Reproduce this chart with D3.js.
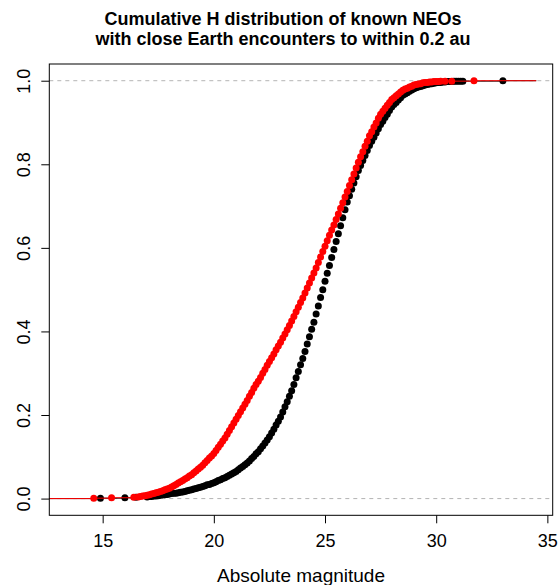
<!DOCTYPE html>
<html>
<head>
<meta charset="utf-8">
<script src="https://cdn.jsdelivr.net/npm/d3@7"></script>
<style>
  body { margin: 0; background: #fff; }
  text { font-family: "Liberation Sans", Arial, Helvetica, sans-serif; }
</style>
</head>
<body>
<script>
// knots (absolute magnitude H) and cumulative fraction
const blackH = [14.9, 16.0, 16.5,
  17.0,17.1,17.2,17.3,17.4,17.5,17.6,17.7,17.8,17.9,
  18.0,18.1,18.2,18.3,18.4,18.5,18.6,18.7,18.8,18.9,
  19.0,19.1,19.2,19.3,19.4,19.5,19.6,19.7,19.8,19.9,
  20.0,20.1,20.2,20.3,20.4,20.5,20.6,20.7,20.8,20.9,
  21.0,21.1,21.2,21.3,21.4,21.5,21.6,21.7,21.8,21.9,
  22.0,22.1,22.2,22.3,22.4,22.5,22.6,22.7,22.8,22.9,
  23.0,23.1,23.2,23.3,23.4,23.5,23.6,23.7,23.8,23.9,
  24.0,24.1,24.2,24.3,24.4,24.5,24.6,24.7,24.8,24.9,
  25.0,25.1,25.2,25.3,25.4,25.5,25.6,25.7,25.8,25.9,
  26.0,26.1,26.2,26.3,26.4,26.5,26.6,26.7,26.8,26.9,
  27.0,27.1,27.2,27.3,27.4,27.5,27.6,27.7,27.8,27.9,
  28.0,28.1,28.2,28.3,28.4,28.5,28.6,28.7,28.8,28.9,
  29.0,29.1,29.2,29.3,29.4,29.5,29.6,29.7,29.8,29.9,
  30.0,30.1,30.2,30.3,30.4,30.5,30.6,30.7,30.8,30.9,
  31.0,31.1,31.2, 33.0];
const blackF = [.001, .002, .003,
  .004,.005,.005,.006,.006,.007,.008,.009,.009,.010,
  .011,.012,.013,.013,.014,.015,.016,.017,.019,.020,
  .021,.023,.024,.026,.027,.029,.031,.033,.034,.036,
  .038,.040,.043,.045,.048,.050,.053,.056,.059,.062,
  .065,.069,.073,.077,.081,.085,.090,.096,.101,.107,
  .112,.119,.126,.133,.140,.148,.157,.166,.176,.185,
  .195,.207,.220,.232,.245,.258,.273,.289,.304,.320,
  .335,.352,.370,.387,.405,.422,.442,.461,.481,.500,
  .520,.539,.558,.577,.596,.615,.634,.653,.672,.691,
  .710,.725,.740,.755,.770,.785,.797,.809,.821,.833,
  .845,.855,.865,.875,.885,.895,.903,.912,.920,.929,
  .937,.943,.948,.954,.959,.965,.968,.971,.975,.978,
  .981,.983,.985,.986,.988,.990,.991,.992,.993,.994,
  .995,.996,.996,.997,.997,.998,.998,.998,.999,.999,
  .999,.999,.999, 1.0];

const redH = [14.6, 15.4, 16.4,
  16.6,16.7,16.8,16.9,
  17.0,17.1,17.2,17.3,17.4,17.5,17.6,17.7,17.8,17.9,
  18.0,18.1,18.2,18.3,18.4,18.5,18.6,18.7,18.8,18.9,
  19.0,19.1,19.2,19.3,19.4,19.5,19.6,19.7,19.8,19.9,
  20.0,20.1,20.2,20.3,20.4,20.5,20.6,20.7,20.8,20.9,
  21.0,21.1,21.2,21.3,21.4,21.5,21.6,21.7,21.8,21.9,
  22.0,22.1,22.2,22.3,22.4,22.5,22.6,22.7,22.8,22.9,
  23.0,23.1,23.2,23.3,23.4,23.5,23.6,23.7,23.8,23.9,
  24.0,24.1,24.2,24.3,24.4,24.5,24.6,24.7,24.8,24.9,
  25.0,25.1,25.2,25.3,25.4,25.5,25.6,25.7,25.8,25.9,
  26.0,26.1,26.2,26.3,26.4,26.5,26.6,26.7,26.8,26.9,
  27.0,27.1,27.2,27.3,27.4,27.5,27.6,27.7,27.8,27.9,
  28.0,28.1,28.2,28.3,28.4,28.5,28.6,28.7,28.8,28.9,
  29.0,29.1,29.2,29.3,29.4,29.5,29.6,29.7,29.8,29.9,
  30.0,30.1,30.2, 30.4, 30.7, 31.7];
const redF = [.001, .002, .003,
  .004,.005,.006,.007,
  .008,.009,.011,.012,.014,.015,.017,.019,.021,.023,
  .025,.028,.031,.034,.037,.040,.043,.047,.050,.054,
  .057,.062,.066,.071,.075,.080,.086,.091,.097,.102,
  .108,.115,.123,.130,.138,.145,.154,.163,.172,.181,
  .190,.199,.208,.217,.226,.235,.245,.254,.264,.273,
  .281,.290,.300,.309,.319,.328,.337,.346,.356,.365,
  .374,.384,.394,.404,.414,.425,.436,.447,.458,.469,
  .480,.492,.504,.516,.528,.540,.552,.565,.578,.591,
  .604,.617,.630,.643,.655,.668,.681,.695,.708,.722,
  .735,.749,.763,.777,.791,.805,.818,.830,.843,.855,
  .868,.878,.889,.899,.910,.920,.927,.934,.941,.948,
  .955,.959,.964,.968,.973,.977,.980,.982,.985,.987,
  .990,.991,.992,.993,.995,.996,.996,.997,.997,.998,
  .998,.998,.999, .999, .999, 1.0];

const xTicks = [15, 20, 25, 30, 35];
const yTicks = [0, 0.2, 0.4, 0.6, 0.8, 1.0];
const titleLines = ["Cumulative H distribution of known NEOs",
                    "with close Earth encounters to within 0.2 au"];
const xLabel = "Absolute magnitude";

(()=>{
    const width = 560;
    const height = 585;
    const left = 49.3, right = 552.7, top = 64, bottom = 515.3;

    const x = d3.scaleLinear().domain([12.60, 35.24]).range([left, right]);
    const y = d3.scaleLinear().domain([-0.04, 1.04]).range([bottom, top]);

    const svg = d3.create("svg")
        .attr("width", width)
        .attr("height", height)
        .attr("viewBox", [0, 0, width, height]);

    // title
    svg.append("g")
        .selectAll("text")
        .data(titleLines)
        .join("text")
        .attr("x", 283)
        .attr("y", (d, i) => 25 + i * 19.5)
        .attr("text-anchor", "middle")
        .attr("font-size", 18)
        .attr("font-weight", "bold")
        .text(d => d);

    // reference lines at 0 and 1
    svg.append("g")
        .selectAll("line")
        .data([0, 1])
        .join("line")
        .attr("x1", left).attr("x2", right)
        .attr("y1", d => y(d)).attr("y2", d => y(d))
        .attr("stroke", "#b4b4b4")
        .attr("stroke-dasharray", "4,4");

    const drawEcdf = (H, F, color, xEnd) => {
        const g = svg.append("g");
        const segs = H.map((h, i) => ({
            x0: h,
            x1: i < H.length - 1 ? H[i + 1] : xEnd,
            f: F[i]
        }));
        segs.unshift({x0: x.invert(left), x1: H[0], f: 0});
        g.selectAll("line")
            .data(segs)
            .join("line")
            .attr("x1", d => x(d.x0)).attr("x2", d => x(d.x1))
            .attr("y1", d => y(d.f)).attr("y2", d => y(d.f))
            .attr("stroke", color)
            .attr("stroke-width", 1);
        g.selectAll("circle")
            .data(H.map((h, i) => [h, F[i]]))
            .join("circle")
            .attr("cx", d => x(d[0]))
            .attr("cy", d => y(d[1]))
            .attr("r", 3.5)
            .attr("fill", color);
    };

    drawEcdf(blackH, blackF, "#000000", 34.5);
    drawEcdf(redH, redF, "#ff0000", 34.5);

    // box
    svg.append("rect")
        .attr("x", left).attr("y", top)
        .attr("width", right - left).attr("height", bottom - top)
        .attr("fill", "none")
        .attr("stroke", "#000");

    // x axis
    const xa = svg.append("g")
        .attr("transform", `translate(0,${bottom})`)
        .call(d3.axisBottom(x).tickValues(xTicks).tickSize(8).tickSizeOuter(0));
    xa.select(".domain").remove();
    xa.selectAll("text").attr("font-size", 18).attr("font-family", null).attr("fill", "#000")
        .attr("dy", null).attr("y", 31.7);
    xa.selectAll("line").attr("stroke", "#000");

    // y axis, labels rotated as in base R
    const ya = svg.append("g")
        .attr("transform", `translate(${left},0)`)
        .call(d3.axisLeft(y).tickValues(yTicks).tickSize(8).tickFormat(d3.format(".1f")));
    ya.select(".domain").remove();
    ya.selectAll("line").attr("stroke", "#000");
    ya.selectAll("text")
        .attr("font-size", 18).attr("font-family", null).attr("fill", "#000")
        .attr("x", null).attr("dy", null)
        .attr("text-anchor", "middle")
        .attr("transform", "translate(-19,0) rotate(-90)");

    svg.append("text")
        .attr("x", (left + right) / 2)
        .attr("y", 581.5)
        .attr("text-anchor", "middle")
        .attr("font-size", 19)
        .text(xLabel);

    d3.select("body").append(() => svg.node());
})();
</script>
</body>
</html>
